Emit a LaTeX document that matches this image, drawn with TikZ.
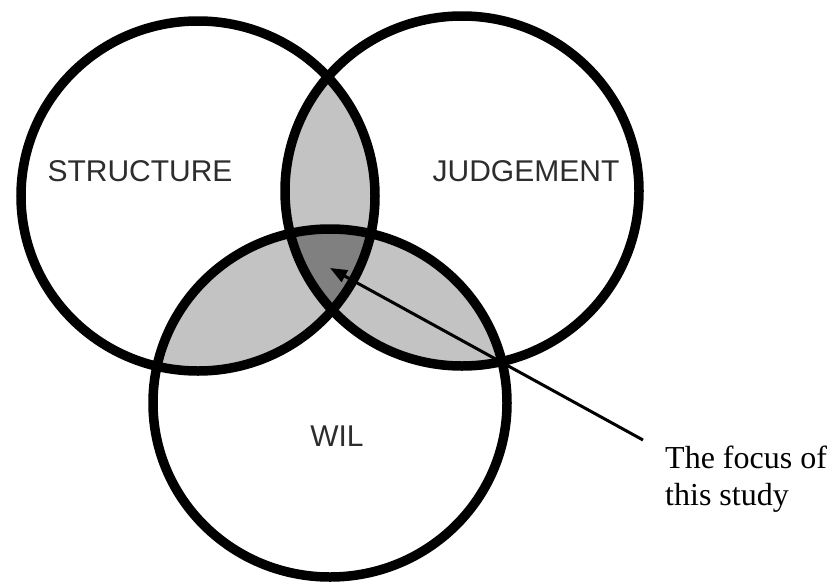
\documentclass[tikz,border=0pt]{standalone}
\usepackage{fontspec}
\setmainfont{Liberation Serif}
\newfontfamily\labelfont{Liberation Sans}
\usetikzlibrary{arrows.meta}
\definecolor{lightshade}{RGB}{195,195,195}
\definecolor{darkshade}{RGB}{128,128,128}
\definecolor{labelgray}{RGB}{45,45,45}
\tikzset{
  venn/.style={draw=black, line width=9.5pt},
  setlabel/.style={font=\labelfont\fontsize{30}{36}\selectfont, text=labelgray, inner sep=0pt},
  note/.style={font=\fontsize{32}{37}\selectfont, align=left, inner sep=0pt, anchor=north west},
  pointer/.style={line width=3pt, -{Triangle[length=17pt,width=13pt]}}
}
\begin{document}
\begin{tikzpicture}[x=1pt,y=-1pt]
\useasboundingbox (0,0) rectangle (832,584);
\coordinate (cs) at (198,196);
\coordinate (cj) at (462,191);
\coordinate (cw) at (330,403);
\def\shapeS{(cs) ellipse [x radius=177, y radius=175]}
\def\shapeJ{(cj) ellipse [x radius=177, y radius=175]}
\def\shapeW{(cw) ellipse [x radius=177, y radius=174]}
% pairwise intersections
\begin{scope}
  \clip \shapeS;
  \fill[lightshade] \shapeJ;
  \fill[lightshade] \shapeW;
\end{scope}
\begin{scope}
  \clip \shapeJ;
  \fill[lightshade] \shapeW;
\end{scope}
% triple intersection
\begin{scope}
  \clip \shapeS;
  \clip \shapeJ;
  \fill[darkshade] \shapeW;
\end{scope}
% circles
\draw[venn] \shapeS;
\draw[venn] \shapeJ;
\draw[venn] \shapeW;
% labels
\node[setlabel] (structure) at (140,171) {STRUCTURE};
\node[setlabel] (judgement) at (526,171) {JUDGEMENT};
\node[setlabel] (wil) at (337,436) {WIL};
\node[note] (focus) at (665,446) {The focus of\\this study};
\coordinate (tail) at (643,440);
\coordinate (target) at (330,268);
\draw[pointer] (tail) -- (target);
\end{tikzpicture}
\end{document}
